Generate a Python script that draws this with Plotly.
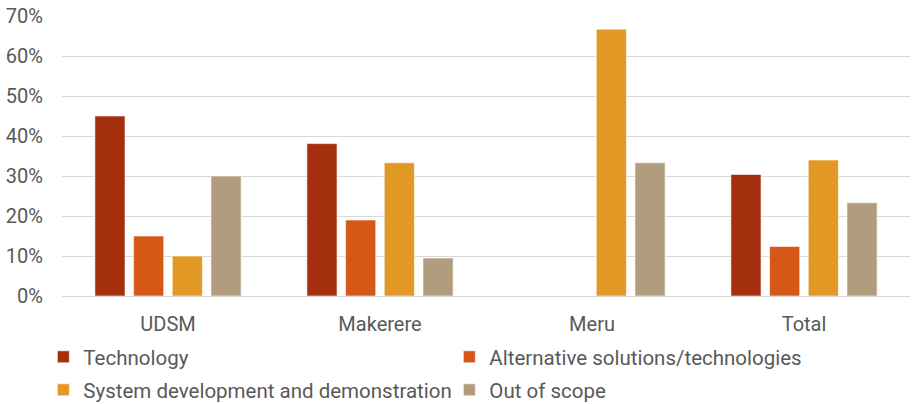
import plotly.graph_objects as go

categories = ["UDSM", "Makerere", "Meru", "Total"]
series_names = ["Technology", "Alternative solutions/technologies",
                "System development and demonstration", "Out of scope"]
technology = [0.45, 0.381, None, 0.304]
alternative = [0.15, 0.190, None, 0.124]
system_dev = [0.10, 0.333, 0.667, 0.340]
out_of_scope = [0.30, 0.095, 0.333, 0.233]
tick_vals = [0, 0.1, 0.2, 0.3, 0.4, 0.5, 0.6, 0.7]
tick_text = ["0%", "10%", "20%", "30%", "40%", "50%", "60%", "70%"]

colors = ["#A5300F", "#D55816", "#E19825", "#B19C7D"]
values = [technology, alternative, system_dev, out_of_scope]
legend_ids = ["legend", "legend", "legend2", "legend2"]

fig = go.Figure()
for name, vals, col, lg in zip(series_names, values, colors, legend_ids):
    fig.add_trace(go.Bar(x=categories, y=vals, name=name, legend=lg,
                         marker=dict(color=col, line=dict(color="rgba(255,255,255,0.6)", width=1))))

FONT = "Roboto"
leg_x = -0.022
leg_common = dict(orientation="h", xanchor="left", yanchor="middle",
                  entrywidth=361, entrywidthmode="pixels",
                  font=dict(family=FONT, size=20.5, color="#595959"),
                  traceorder="normal", itemwidth=30, bgcolor="rgba(0,0,0,0)")
fig.update_layout(
    width=916, height=404,
    margin=dict(l=62, r=6, t=16, b=108, autoexpand=False),
    paper_bgcolor="white", plot_bgcolor="white",
    barmode="group", bargap=0.27, bargroupgap=0.22,
    font=dict(family=FONT, size=18, color="#595959"),
    showlegend=True,
    legend=dict(x=leg_x, y=(296 - 357) / 280, **leg_common),
    legend2=dict(x=leg_x, y=(296 - 390) / 280, **leg_common),
)
fig.update_yaxes(range=[0, 0.70], tickvals=tick_vals, ticktext=tick_text,
                 showgrid=True, gridcolor="#D9D9D9", gridwidth=1,
                 zeroline=True, zerolinecolor="#D9D9D9", zerolinewidth=1,
                 showline=False, ticklabelstandoff=18,
                 tickfont=dict(size=20, color="#595959"))
fig.update_xaxes(showline=False, showgrid=False, tickfont=dict(size=20, color="#595959"),
                 ticklabelstandoff=14)

fig.write_html("out.html")
